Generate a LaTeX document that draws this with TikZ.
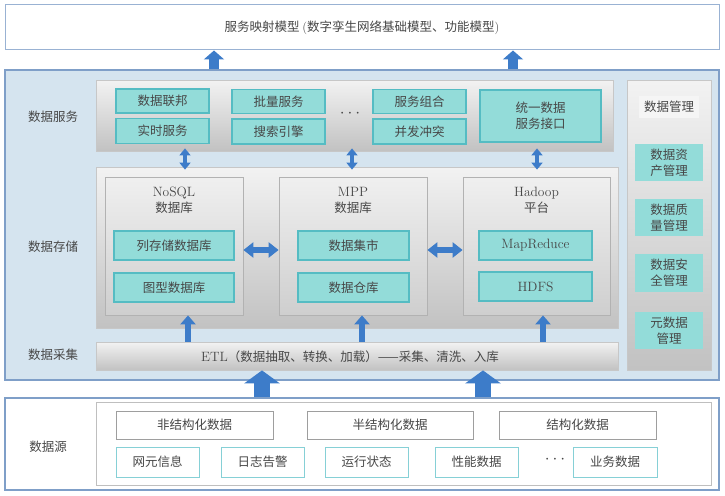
\documentclass[tikz,border=0pt]{standalone}
\usepackage{fontspec}
\newfontfamily\cjk{Noto Sans CJK SC}
\usetikzlibrary{arrows.meta}
\definecolor{txt}{HTML}{474747}
\definecolor{abl}{HTML}{3D7CC9}
\definecolor{mainfill}{HTML}{D5E4EF}
\definecolor{mainline}{HTML}{7F9FC8}
\definecolor{tealfill}{HTML}{93DCD9}
\definecolor{tealline}{HTML}{55BCC3}
\definecolor{srcteal}{HTML}{86D0D6}
\newcommand{\lat}[1]{{\rmfamily\fontsize{13.5}{16}\selectfont #1}}
\newcommand{\mydots}{{\rmfamily\fontsize{17}{17}\selectfont$\cdots$}}
\tikzset{
  base/.style={font=\cjk\fontsize{12.5}{16}\selectfont, text=txt, inner sep=0pt, align=center},
  topbox/.style={base, draw=mainline!80, line width=1pt, fill=white, minimum width=714, minimum height=45},
  mainpanel/.style={draw=mainline, line width=1.2pt, fill=mainfill, minimum width=714, minimum height=310, inner sep=0pt},
  graypanel/.style={draw=black!22, line width=0.8pt, top color=black!5, bottom color=black!24, inner sep=0pt},
  dbbox/.style={draw=black!30, line width=0.8pt, top color=black!6, bottom color=black!19, inner sep=0pt},
  tealbox/.style={base, draw=tealline, line width=1.2pt, fill=tealfill},
  srcbox/.style={base, draw=black!38, line width=0.8pt, fill=white, minimum height=28},
  srcitem/.style={base, draw=srcteal, line width=1pt, fill=white, minimum height=30, minimum width=83},
  lbl/.style={base},
  upA/.style={draw=abl, line width=10pt, -{Triangle[width=20pt,length=9pt]}, color=abl},
  upB/.style={draw=abl, line width=16pt, -{Triangle[width=35pt,length=13pt]}, color=abl},
  upC/.style={draw=abl, line width=6pt, -{Triangle[width=15pt,length=9pt]}, color=abl},
  vdbl/.style={draw=abl, line width=4pt, {Triangle[width=11pt,length=7pt]}-{Triangle[width=11pt,length=7pt]}, color=abl, shorten <=-3pt, shorten >=-3pt},
  hdbl/.style={draw=abl, line width=6pt, {Triangle[width=15pt,length=10pt]}-{Triangle[width=15pt,length=10pt]}, color=abl},
}
\begin{document}
\begin{tikzpicture}[x=1pt,y=-1pt]
\useasboundingbox (0,0) rectangle (725,495);
\fill[white] (0,0) rectangle (725,495);

% top box
\node[topbox] (top) at (362,27.5) {服务映射模型 {\rmfamily(}数字孪生网络基础模型、功能模型{\rmfamily)}};

% main panel
\node[mainpanel] (main) at (362,225) {};

% left labels
\node[lbl] (lsvc) at (53,117) {数据服务};
\node[lbl] (lsto) at (53,247) {数据存储};
\node[lbl] (letl) at (53,355) {数据采集};

% service panel
\node[graypanel, minimum width=517, minimum height=71] (svc) at (354.5,115.5) {};
\node[tealbox, minimum width=93, minimum height=24] (s1) at (162.5,101) {数据联邦};
\node[tealbox, minimum width=93, minimum height=25] (s2) at (162.5,131) {实时服务};
\node[tealbox, minimum width=93, minimum height=24] (s3) at (278.5,101.5) {批量服务};
\node[tealbox, minimum width=93, minimum height=25] (s4) at (278.5,131.5) {搜索引擎};
\node[base] (sdots) at (350,114) {\mydots};
\node[tealbox, minimum width=93, minimum height=24] (s5) at (419.5,101.5) {服务组合};
\node[tealbox, minimum width=93, minimum height=25] (s6) at (419.5,131.5) {并发冲突};
\node[tealbox, minimum width=121, minimum height=52] (s7) at (540.5,116) {统一数据\\服务接口};

% storage panel
\node[graypanel, minimum width=522, minimum height=161] (sto) at (357,247.5) {};
\node[dbbox, minimum width=138, minimum height=138] (nosql) at (174,246) {};
\node[dbbox, minimum width=148, minimum height=138] (mpp) at (353,246) {};
\node[dbbox, minimum width=147, minimum height=138] (hadoop) at (536.5,246) {};
\node[base] (tn) at (174,200) {\lat{NoSQL}\\数据库};
\node[base] (tm) at (353,200) {\lat{MPP}\\数据库};
\node[base] (th) at (536.5,200) {\lat{Hadoop}\\平台};
\node[tealbox, minimum width=120, minimum height=29] (n1) at (174,245.5) {列存储数据库};
\node[tealbox, minimum width=120, minimum height=29] (n2) at (174,287.5) {图型数据库};
\node[tealbox, minimum width=111, minimum height=29] (m1) at (353.5,245.5) {数据集市};
\node[tealbox, minimum width=111, minimum height=29] (m2) at (353.5,287.5) {数据仓库};
\node[tealbox, minimum width=113, minimum height=29] (h1) at (535.5,245.5) {\lat{MapReduce}};
\node[tealbox, minimum width=113, minimum height=29] (h2) at (535.5,286.5) {\lat{HDFS}};

% ETL bar
\node[graypanel, minimum width=522, minimum height=28] (etl) at (357,356) {};
\node[base] (etlt) at (350,356.5) {\lat{ETL}（数据抽取、转换、加载）——采集、清洗、入库};

% data management panel
\node[graypanel, minimum width=84, minimum height=290] (mgmt) at (669,225) {};
\node[base, fill=black!4, minimum width=60, minimum height=22] (mt) at (669,107) {数据管理};
\node[tealbox, draw=none, minimum width=68, minimum height=37] (g1) at (669,162.5) {数据资\\产管理};
\node[tealbox, draw=none, minimum width=68, minimum height=37] (g2) at (669,217.5) {数据质\\量管理};
\node[tealbox, draw=none, minimum width=68, minimum height=38] (g3) at (669,273) {数据安\\全管理};
\node[tealbox, draw=none, minimum width=68, minimum height=37] (g4) at (669,330.5) {元数据\\管理};

% data source
\node[draw=mainline, line width=1.2pt, fill=white, minimum width=714, minimum height=92, inner sep=0pt] (src) at (362,444) {};
\node[lbl] (lsrc) at (48,447) {数据源};
\node[draw=black!25, line width=0.8pt, fill=white, minimum width=615, minimum height=83, inner sep=0pt] (srcin) at (403.5,443.5) {};
\node[srcbox, minimum width=157] (d1) at (194.5,425) {非结构化数据};
\node[srcbox, minimum width=166] (d2) at (390,425) {半结构化数据};
\node[srcbox, minimum width=157] (d3) at (577.5,425) {结构化数据};
\node[srcitem] (e1) at (157.5,462) {网元信息};
\node[srcitem] (e2) at (262.5,462) {日志告警};
\node[srcitem] (e3) at (366.5,462) {运行状态};
\node[srcitem] (e4) at (476.5,462) {性能数据};
\node[base] (edots) at (555,460) {\mydots};
\node[srcitem, minimum width=84] (e5) at (615,462) {业务数据};

% arrows
\draw[upA] (214,0 |- main.north) -- (214,0 |- top.south);
\draw[upA] (513,0 |- main.north) -- (513,0 |- top.south);
\draw[upB] (262,0 |- src.north) -- (262,0 |- etl.south);
\draw[upB] (483,0 |- src.north) -- (483,0 |- etl.south);
\draw[upC] (188,0 |- etl.north) -- (188,0 |- nosql.south);
\draw[upC] (362,0 |- etl.north) -- (362,0 |- mpp.south);
\draw[upC] (543,0 |- etl.north) -- (543,0 |- hadoop.south);
\draw[vdbl] (185,0 |- svc.south) -- (185,0 |- sto.north);
\draw[vdbl] (352,0 |- svc.south) -- (352,0 |- sto.north);
\draw[vdbl] (537,0 |- svc.south) -- (537,0 |- sto.north);
\draw[hdbl] (nosql.east |- 0,250) -- (mpp.west |- 0,250);
\draw[hdbl] (mpp.east |- 0,250) -- (hadoop.west |- 0,250);
\end{tikzpicture}
\end{document}
